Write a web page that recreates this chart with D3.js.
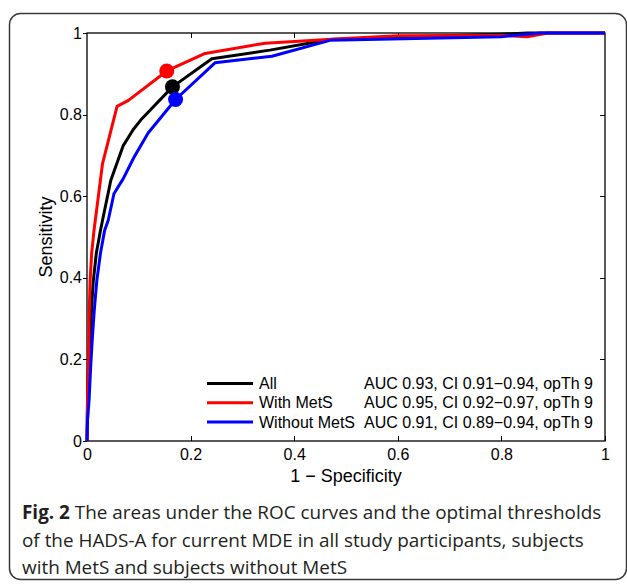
<!DOCTYPE html>
<head>
  <meta charset="utf-8">
  <title>ROC curves HADS-A</title>
  <style>
    body {margin: 0; background: #fff;}
    svg {display: block;}
    .axis text {font: 16px "Liberation Sans", Arial, sans-serif; fill: #000;}
    .axis line, .axis path {stroke: #000; stroke-width: 1; shape-rendering: crispEdges;}
    .lbl {font: 18px "Liberation Sans", Arial, sans-serif; fill: #000;}
    .legend text {font: 16px "Liberation Sans", Arial, sans-serif; fill: #000;}
    .caption {font: 18.9px "Open Sans", sans-serif; fill: #231f20;}
  </style>
</head>
<body>
  <svg width="627" height="584"></svg>
  <script src="https://cdn.jsdelivr.net/npm/d3@7"></script>
  <script>
    // tick values
    var xTicks = [0, 0.2, 0.4, 0.6, 0.8, 1];
    var yTicks = [0, 0.2, 0.4, 0.6, 0.8, 1];

    // ROC curves: [1 - specificity, sensitivity]
    var rocAll = [[0,0],[0.001,0.1],[0.003,0.2],[0.006,0.25],[0.009,0.33],[0.012,0.39],[0.018,0.46],
      [0.026,0.516],[0.030,0.541],[0.046,0.639],[0.070,0.724],[0.089,0.763],[0.106,0.790],[0.165,0.868],
      [0.241,0.937],[0.353,0.958],[0.469,0.984],[0.6,0.99],[0.8,0.997],[0.85,1],[1,1]];
    var rocWith = [[0,0],[0.001,0.1],[0.003,0.2],[0.004,0.3],[0.006,0.394],[0.009,0.46],[0.0135,0.516],
      [0.030,0.680],[0.058,0.820],[0.080,0.835],[0.154,0.907],[0.228,0.950],[0.344,0.975],[0.48,0.985],
      [0.6,0.993],[0.8,0.994],[0.85,0.991],[0.89,1],[1,1]];
    var rocWithout = [[0,0],[0.001,0.05],[0.004,0.1],[0.007,0.18],[0.010,0.246],[0.014,0.32],[0.019,0.394],
      [0.026,0.46],[0.034,0.516],[0.041,0.541],[0.052,0.606],[0.070,0.643],[0.091,0.696],[0.118,0.755],
      [0.171,0.837],[0.247,0.927],[0.357,0.943],[0.469,0.982],[0.8,0.991],[0.875,1],[1,1]];

    // optimal thresholds (opTh 9)
    var opAll = [0.165, 0.868];
    var opWith = [0.154, 0.907];
    var opWithout = [0.171, 0.837];

    var seriesNames = ["All", "With MetS", "Without MetS"];
    var seriesStats = ["AUC 0.93, CI 0.91\u22120.94, opTh 9",
                       "AUC 0.95, CI 0.92\u22120.97, opTh 9",
                       "AUC 0.91, CI 0.89\u22120.94, opTh 9"];
    var seriesColors = ["#000000", "#ff0000", "#0000ff"];

    var captionLines = [
      ["Fig. 2", " The areas under the ROC curves and the optimal thresholds"],
      ["", "of the HADS-A for current MDE in all study participants, subjects"],
      ["", "with MetS and subjects without MetS"]
    ];

    var svg = d3.select("svg");
    var margin = {top: 33, left: 87, right: 22, bottom: 143};
    var width = 605 - margin.left, height = 441 - margin.top;

    // outer rounded frame
    svg.append("rect")
        .attr("x", 9.5).attr("y", 13.5)
        .attr("width", 617).attr("height", 566)
        .attr("rx", 11).attr("ry", 11)
        .attr("fill", "none").attr("stroke", "#3a3a3a").attr("stroke-width", 1.5);

    var g = svg.append("g").attr("transform", "translate(" + margin.left + "," + margin.top + ")");

    var x = d3.scaleLinear().domain([0, 1]).range([0, width]);
    var y = d3.scaleLinear().domain([0, 1]).range([height, 0]);

    // axes, matlab-ish box
    g.append("g").attr("class", "axis")
        .attr("transform", "translate(0," + height + ")")
        .call(d3.axisBottom(x).tickValues(xTicks).tickSize(-5).tickPadding(8).tickFormat(d3.format("")))
        .call(function(s) { s.select(".domain").remove(); });
    g.append("g").attr("class", "axis")
        .call(d3.axisLeft(y).tickValues(yTicks).tickSize(4).tickPadding(1).tickFormat(d3.format("")))
        .call(function(s) { s.select(".domain").remove(); });
    g.append("g").attr("class", "axis")
        .call(d3.axisTop(x).tickValues(xTicks.slice(1, -1)).tickSize(-5).tickFormat(""))
        .call(function(s) { s.select(".domain").remove(); });
    g.append("g").attr("class", "axis")
        .attr("transform", "translate(" + width + ",0)")
        .call(d3.axisRight(y).tickValues(yTicks.slice(1, -1)).tickSize(-5).tickFormat(""))
        .call(function(s) { s.select(".domain").remove(); });
    g.append("rect").attr("width", width).attr("height", height)
        .attr("fill", "none").attr("stroke", "#000").attr("stroke-width", 1.3);

    // axis titles
    svg.append("text").attr("class", "lbl")
        .attr("transform", "translate(52," + (margin.top + height / 2) + ") rotate(-90)")
        .attr("text-anchor", "middle").text("Sensitivity");
    svg.append("text").attr("class", "lbl")
        .attr("x", margin.left + width / 2).attr("y", 482)
        .attr("text-anchor", "middle").text("1 \u2212 Specificity");

    // curves
    var line = d3.line().x(function(d) { return x(d[0]); }).y(function(d) { return y(d[1]); });
    var curves = [rocAll, rocWith, rocWithout];
    curves.forEach(function(c, i) {
      g.append("path").datum(c)
          .attr("d", line)
          .attr("fill", "none")
          .attr("stroke", seriesColors[i])
          .attr("stroke-width", 3)
          .attr("stroke-linejoin", "round");
    });

    // optimal threshold dots
    var dots = [[opWith, 1], [opAll, 0], [opWithout, 2]];
    g.selectAll(".dot").data(dots).enter().append("circle")
        .attr("class", "dot")
        .attr("cx", function(d) { return x(d[0][0]); })
        .attr("cy", function(d) { return y(d[0][1]); })
        .attr("r", 7.5)
        .attr("fill", function(d) { return seriesColors[d[1]]; });

    // legend
    var legend = svg.append("g").attr("class", "legend")
      .selectAll("g").data(seriesNames).enter().append("g")
        .attr("transform", function(d, i) { return "translate(0," + (383.5 + i * 19.2) + ")"; });
    legend.append("line")
        .attr("x1", 207).attr("x2", 253)
        .attr("stroke", function(d, i) { return seriesColors[i]; })
        .attr("stroke-width", 3);
    legend.append("text")
        .attr("x", 259).attr("dy", "0.35em")
        .text(function(d) { return d; });
    legend.append("text")
        .attr("x", 593).attr("dy", "0.35em").attr("text-anchor", "end")
        .text(function(d, i) { return seriesStats[i]; });

    // caption
    var cap = svg.append("g").attr("class", "caption");
    captionLines.forEach(function(l, i) {
      var t = cap.append("text").attr("x", 22).attr("y", 519 + i * 27.5);
      if (l[0]) t.append("tspan").attr("font-weight", "bold").text(l[0]);
      t.append("tspan").text(l[1]);
    });
  </script>
</body>
